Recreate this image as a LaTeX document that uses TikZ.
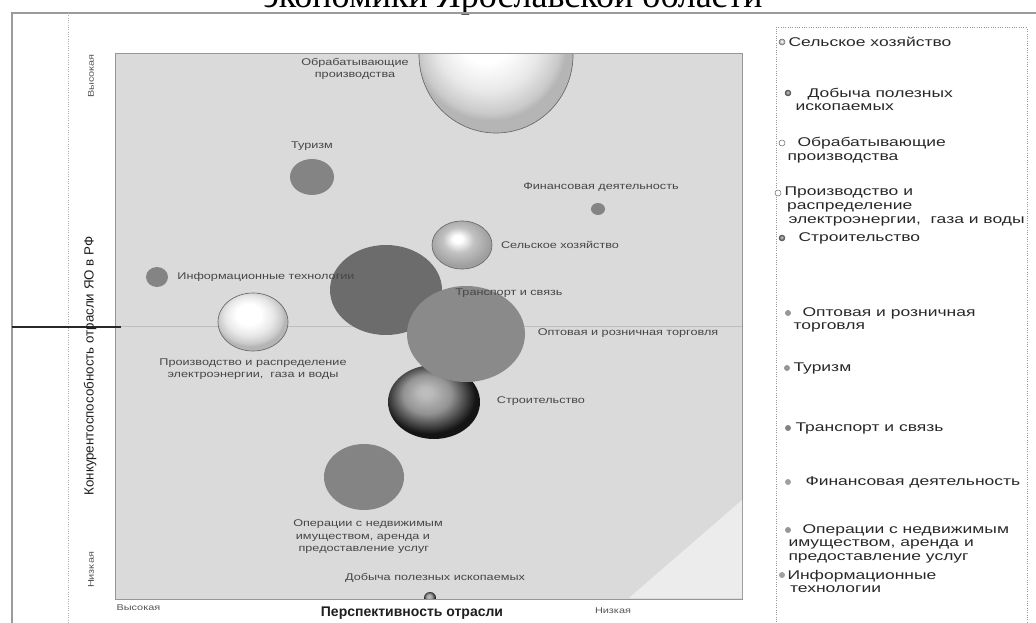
\documentclass[tikz,border=0pt]{standalone}
\usepackage{fontspec}
\setmainfont{Liberation Serif}
\newfontfamily\chartfont[FakeStretch=1.3]{Liberation Sans}
\newfontfamily\legendfont[FakeStretch=1.38]{Liberation Sans}
\newfontfamily\axisfont{Liberation Sans}

\pgfdeclareradialshading{pale sphere}{\pgfpoint{-4bp}{8bp}}{color(0bp)=(white); color(9bp)=(white); color(17bp)=(gray!18); color(23bp)=(gray!42); color(25bp)=(gray!58); color(50bp)=(gray!58)}
\pgfdeclareradialshading{grey sphere}{\pgfpoint{-4bp}{7bp}}{color(0bp)=(white); color(4bp)=(white); color(13bp)=(gray!48); color(25bp)=(gray!75); color(50bp)=(gray!75)}
\pgfdeclareradialshading{dark sphere}{\pgfpoint{-5bp}{7bp}}{color(0bp)=(gray!50); color(4bp)=(gray!55); color(13bp)=(gray!85); color(25bp)=(black!92); color(50bp)=(black!92)}

\tikzset{every picture/.style={line width=0.75pt}}
\tikzset{
	chart label/.style={font=\chartfont\fontsize{7.3}{9.4}\selectfont, text={rgb, 255:red, 70; green, 70; blue, 70}, inner sep=0pt, align=center},
	tick label/.style={font=\chartfont\fontsize{6.3}{7}\selectfont, text={rgb, 255:red, 85; green, 85; blue, 85}, inner sep=0pt},
	legend text/.style={font=\legendfont\fontsize{9.5}{10.2}\selectfont, text={rgb, 255:red, 40; green, 40; blue, 40}, inner sep=0pt, anchor=west, align=left},
	legend dot/.style={circle, inner sep=0pt, minimum size=4.5pt, draw={rgb, 255:red, 110; green, 110; blue, 110}, line width=0.4pt},
	flat bubble/.style={draw opacity=0, fill={rgb, 255:red, 132; green, 132; blue, 132}},
	sphere edge/.style={draw={rgb, 255:red, 105; green, 105; blue, 105}, line width=0.5pt}
}

\begin{document}
\begin{tikzpicture}[x=0.75pt,y=0.75pt,yscale=-1,xscale=1]
	\useasboundingbox (0,0) rectangle (1036,623);

	% Text Node (title, cut by the page top)
	\node [anchor=base, inner sep=0pt, font=\fontsize{27}{30}\selectfont] (title) at (513,8) {экономики Ярославской области};

	%Shape: outer frame
	\draw [color={rgb, 255:red, 155; green, 155; blue, 155 }, line width=2pt] (12,623) -- (12,13) -- (1036,13) ;
	\draw [color={rgb, 255:red, 175; green, 175; blue, 175 }, densely dotted] (68,13) -- (68,623) ;
	%Shape: Rectangle (legend box)
	\draw [color={rgb, 255:red, 150; green, 150; blue, 150 }, densely dotted] (776,28) -- (1027,28) -- (1027,640) -- (776,640) -- cycle ;

	%Shape: Rectangle (plot area)
	\draw [color={rgb, 255:red, 150; green, 150; blue, 150 }, fill={rgb, 255:red, 218; green, 218; blue, 218 }] (115,54) -- (742,54) -- (742,599) -- (115,599) -- cycle ;
	%Shape: Triangle (light corner)
	\fill [fill={rgb, 255:red, 236; green, 236; blue, 236 }] (742,500) -- (742,598) -- (629,598) -- cycle ;
	%Straight Lines (middle)
	\draw [color={rgb, 255:red, 190; green, 190; blue, 190 }] (115,327) -- (742,327) ;
	\draw [color={rgb, 255:red, 40; green, 40; blue, 40 }, line width=1pt] (12,327) -- (121,327) ;

	\begin{scope}
		\clip (115.5,54.5) rectangle (741.5,598.5);
		%Shape: Ellipse (manufacturing)
		\shade [shading=pale sphere, sphere edge] (496,55) ellipse [x radius=77, y radius=78];
		%Shape: Ellipse (tourism)
		\fill [flat bubble] (312,177) ellipse [x radius=22, y radius=18];
		%Shape: Ellipse (finance)
		\fill [flat bubble] (598,209) ellipse [x radius=7, y radius=6];
		%Shape: Ellipse (agriculture)
		\shade [shading=grey sphere, sphere edge] (462,245) ellipse [x radius=30, y radius=24];
		%Shape: Ellipse (IT)
		\fill [flat bubble] (157,277) ellipse [x radius=11, y radius=10];
		%Shape: Ellipse (energy)
		\shade [shading=pale sphere, sphere edge] (253,322) ellipse [x radius=35, y radius=29];
		%Shape: Ellipse (construction)
		\shade [shading=dark sphere] (434,402) ellipse [x radius=46, y radius=37];
		%Shape: Ellipse (transport)
		\fill [flat bubble, fill={rgb, 255:red, 108; green, 108; blue, 108 }] (386,290) ellipse [x radius=56, y radius=45];
		%Shape: Ellipse (trade)
		\fill [flat bubble, fill={rgb, 255:red, 138; green, 138; blue, 138 }] (466,334) ellipse [x radius=59, y radius=48];
		%Shape: Ellipse (real estate)
		\fill [flat bubble] (364,477) ellipse [x radius=40, y radius=33];
		%Shape: Ellipse (mining)
		\shade [shading=dark sphere] (430,598) ellipse [x radius=6, y radius=6];
	\end{scope}

	% Text Node
	\node [chart label] (manuf lbl) at (355,69) {Обрабатывающие\\производства};
	% Text Node
	\node [chart label] (tourism lbl) at (312,146) {Туризм};
	% Text Node
	\node [chart label] (finance lbl) at (601,187) {Финансовая деятельность};
	% Text Node
	\node [chart label] (agri lbl) at (560,245) {Сельское хозяйство};
	% Text Node
	\node [chart label] (it lbl) at (266,277) {Информационные технологии};
	% Text Node
	\node [chart label] (transport lbl) at (509,293) {Транспорт и связь};
	% Text Node
	\node [chart label] (trade lbl) at (628,333) {Оптовая и розничная торговля};
	% Text Node
	\node [chart label] (energy lbl) at (253,369) {Производство и распределение\\электроэнергии,\ \ газа и воды};
	% Text Node
	\node [chart label] (constr lbl) at (541,401) {Строительство};
	% Text Node
	\node [chart label, align=left] (realty lbl) at (368,537) {Операции с недвижимым\\\hspace*{2pt}имуществом, аренда и\\\hspace*{4pt}предоставление услуг};
	% Text Node
	\node [chart label] (mining lbl) at (435,578) {Добыча полезных ископаемых};

	% Text Node (axes)
	\node [tick label, rotate=90] (y high) at (91,76) {Высокая};
	\node [tick label, rotate=90] (y low) at (91,570) {Низкая};
	\node [inner sep=0pt, rotate=90, font=\axisfont\fontsize{10}{12}\selectfont, text={rgb, 255:red, 30; green, 30; blue, 30}] (y title) at (90,366) {Конкурентоспособность отрасли ЯО в РФ};
	\node [tick label, anchor=west] (x high) at (116,608) {Высокая};
	\node [tick label] (x low) at (613,611) {Низкая};
	\node [inner sep=0pt, font=\axisfont\bfseries\fontsize{10.5}{12}\selectfont, text={rgb, 255:red, 30; green, 30; blue, 30}] (x title) at (412,613) {Перспективность отрасли};

	% Legend
	\node [legend dot, shade, shading=grey sphere] (agri dot) at (782,42) {};
	\node [legend text] (agri key) at (788,42) {Сельское хозяйство};
	\node [legend dot, shade, shading=dark sphere] (mining dot) at (788,93) {};
	\node [legend text] (mining key) at (795,99.5) {\hspace*{9pt}Добыча полезных\\ископаемых};
	\node [legend dot, fill=white] (manuf dot) at (782,143) {};
	\node [legend text] (manuf key) at (787,150) {\hspace*{7.5pt}Обрабатывающие\\производства};
	\node [legend dot, fill=white] (energy dot) at (778,193) {};
	\node [legend text] (energy key) at (784,206.5) {Производство и\\\hspace*{2pt}распределение\\\hspace*{3pt}электроэнергии,\ \ газа и воды};
	\node [legend dot, shade, shading=dark sphere] (constr dot) at (782,238) {};
	\node [legend text] (constr key) at (798,238) {Строительство};
	\node [legend dot, fill={rgb, 255:red, 150; green, 150; blue, 150 }, draw opacity=0] (trade dot) at (788,313) {};
	\node [legend text] (trade key) at (793,320) {\hspace*{6.75pt}Оптовая и розничная\\торговля};
	\node [legend dot, fill={rgb, 255:red, 150; green, 150; blue, 150 }, draw opacity=0] (tourism dot) at (787,368) {};
	\node [legend text] (tourism key) at (793,368) {Туризм};
	\node [legend dot, fill={rgb, 255:red, 130; green, 130; blue, 130 }, draw opacity=0] (transport dot) at (788,428) {};
	\node [legend text] (transport key) at (795,428) {Транспорт и связь};
	\node [legend dot, fill={rgb, 255:red, 160; green, 160; blue, 160 }, draw opacity=0] (finance dot) at (788,482) {};
	\node [legend text] (finance key) at (805,482) {Финансовая деятельность};
	\node [legend dot, fill={rgb, 255:red, 150; green, 150; blue, 150 }, draw opacity=0] (realty dot) at (788,530) {};
	\node [legend text] (realty key) at (788,543.5) {\hspace*{10.5pt}Операции с недвижимым\\имуществом, аренда и\\предоставление услуг};
	\node [legend dot, fill={rgb, 255:red, 160; green, 160; blue, 160 }, draw opacity=0] (it dot) at (782,575) {};
	\node [legend text] (it key) at (787,581.5) {Информационные\\\hspace*{2pt}технологии};

\end{tikzpicture}
\end{document}
